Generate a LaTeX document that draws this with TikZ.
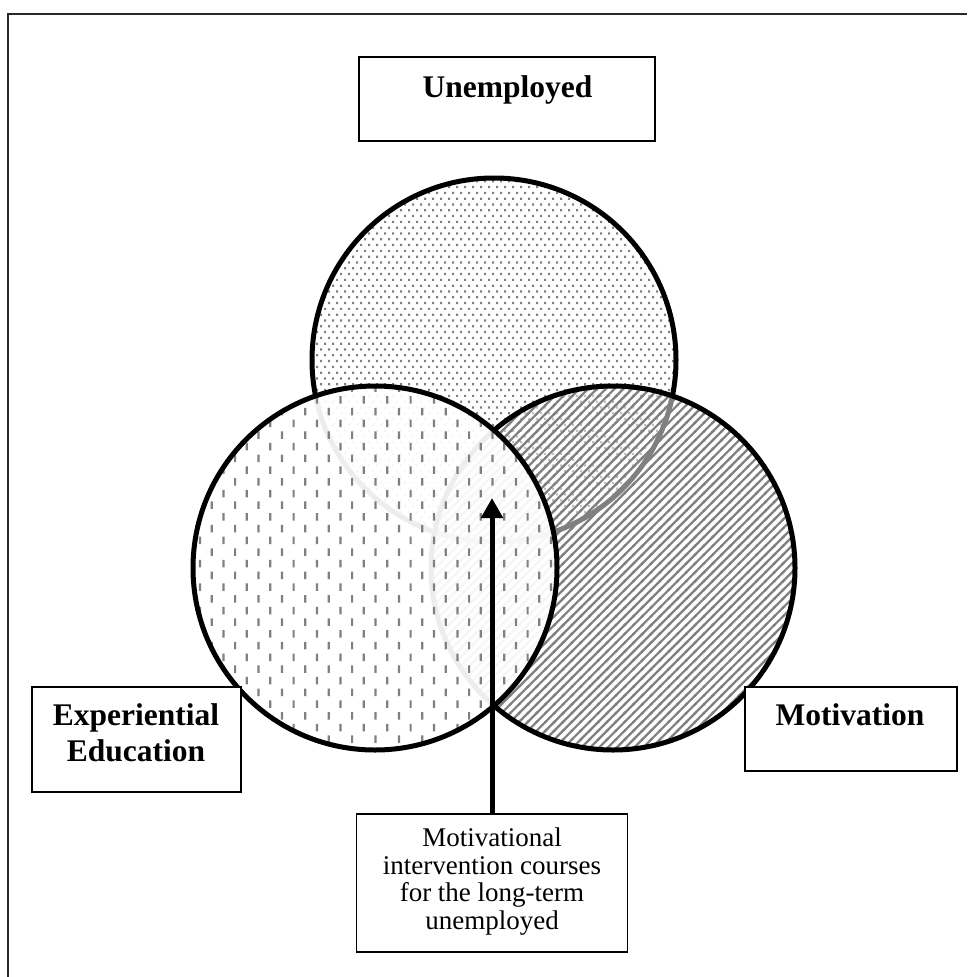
\documentclass[tikz,border=0pt]{standalone}
\usepackage{fontspec}
\setmainfont{Liberation Serif}
\usetikzlibrary{arrows.meta,patterns}

\pgfdeclarepatternformonly{mydots}{\pgfqpoint{-1pt}{-1pt}}{\pgfqpoint{9pt}{12.6pt}}{\pgfqpoint{8pt}{11.6pt}}{%
  \pgfpathrectangle{\pgfqpoint{0pt}{0pt}}{\pgfqpoint{2.2pt}{2.2pt}}%
  \pgfpathrectangle{\pgfqpoint{4pt}{5.8pt}}{\pgfqpoint{2.2pt}{2.2pt}}%
  \pgfusepath{fill}%
}
\pgfdeclarepatternformonly{myvdash}{\pgfqpoint{-1pt}{-1pt}}{\pgfqpoint{24.4pt}{24.4pt}}{\pgfqpoint{23.4pt}{23.4pt}}{%
  \pgfpathrectangle{\pgfqpoint{0pt}{0pt}}{\pgfqpoint{2.2pt}{7.5pt}}%
  \pgfpathrectangle{\pgfqpoint{11.7pt}{11.7pt}}{\pgfqpoint{2.2pt}{7.5pt}}%
  \pgfusepath{fill}%
}
\pgfdeclarepatternformonly{mystripes}{\pgfqpoint{-2pt}{-2pt}}{\pgfqpoint{10.8pt}{10.8pt}}{\pgfqpoint{8.8pt}{8.8pt}}{%
  \pgfsetlinewidth{2.2pt}%
  \pgfpathmoveto{\pgfqpoint{-1pt}{-1pt}}%
  \pgfpathlineto{\pgfqpoint{9.8pt}{9.8pt}}%
  \pgfusepath{stroke}%
}

\definecolor{patgray}{RGB}{128,128,128}

\tikzset{
  vcircle/.style={circle, inner sep=0pt, outer sep=0pt, minimum size=364pt, line width=5pt, draw=black},
  box/.style={draw=black, line width=1.8pt, fill=white, inner sep=0pt},
  boldlbl/.style={font=\fontsize{31.5}{36}\selectfont\bfseries, align=center, inner sep=0pt, anchor=base},
  plainlbl/.style={font=\fontsize{27}{27.5}\selectfont, align=center, inner sep=0pt, anchor=base},
  frame/.style={line width=2.5pt, draw={rgb,255:red,40;green,40;blue,40}},
  bigarrow/.style={line width=5pt, -{Triangle[length=20pt,width=21pt]}}
}

\begin{document}
\begin{tikzpicture}[x=1pt, y=-1pt]
\useasboundingbox (0,0) rectangle (967,977);

% outer frame (only its top and left edges fall within the picture)
\draw[frame] (8,977) -- (8,14) -- (967,14);

% circles
\node[vcircle, preaction={fill=white}, pattern=mydots, pattern color=patgray] (cU) at (494,360) {};
\node[vcircle, preaction={fill=white, fill opacity=0.5}, pattern=mystripes, pattern color=patgray] (cM) at (613,568) {};
\node[vcircle, preaction={fill=white, fill opacity=0.93}, pattern=myvdash, pattern color=patgray] (cE) at (375,568) {};

% boxes
\node[box, minimum width=296pt, minimum height=84pt] (unempBox) at (507,99) {};
\node[boldlbl] (unempText) at (507.5,97) {Unemployed};

\node[box, minimum width=209pt, minimum height=105pt] (expBox) at (136.5,739.5) {};
\node[boldlbl] (expText) at (136,761.7) {Experiential\\Education};

\node[box, minimum width=212pt, minimum height=84pt] (motBox) at (851,729) {};
\node[boldlbl] (motText) at (850,725.7) {Motivation};

\node[box, minimum width=271pt, minimum height=138pt] (courseBox) at (492,883) {};
\node[plainlbl] (courseText) at (492,929) {Motivational\\intervention courses\\for the long-term\\unemployed};

% arrow
\coordinate (tip) at (492,498);
\draw[bigarrow] (courseBox.north) -- (tip);
\end{tikzpicture}
\end{document}
